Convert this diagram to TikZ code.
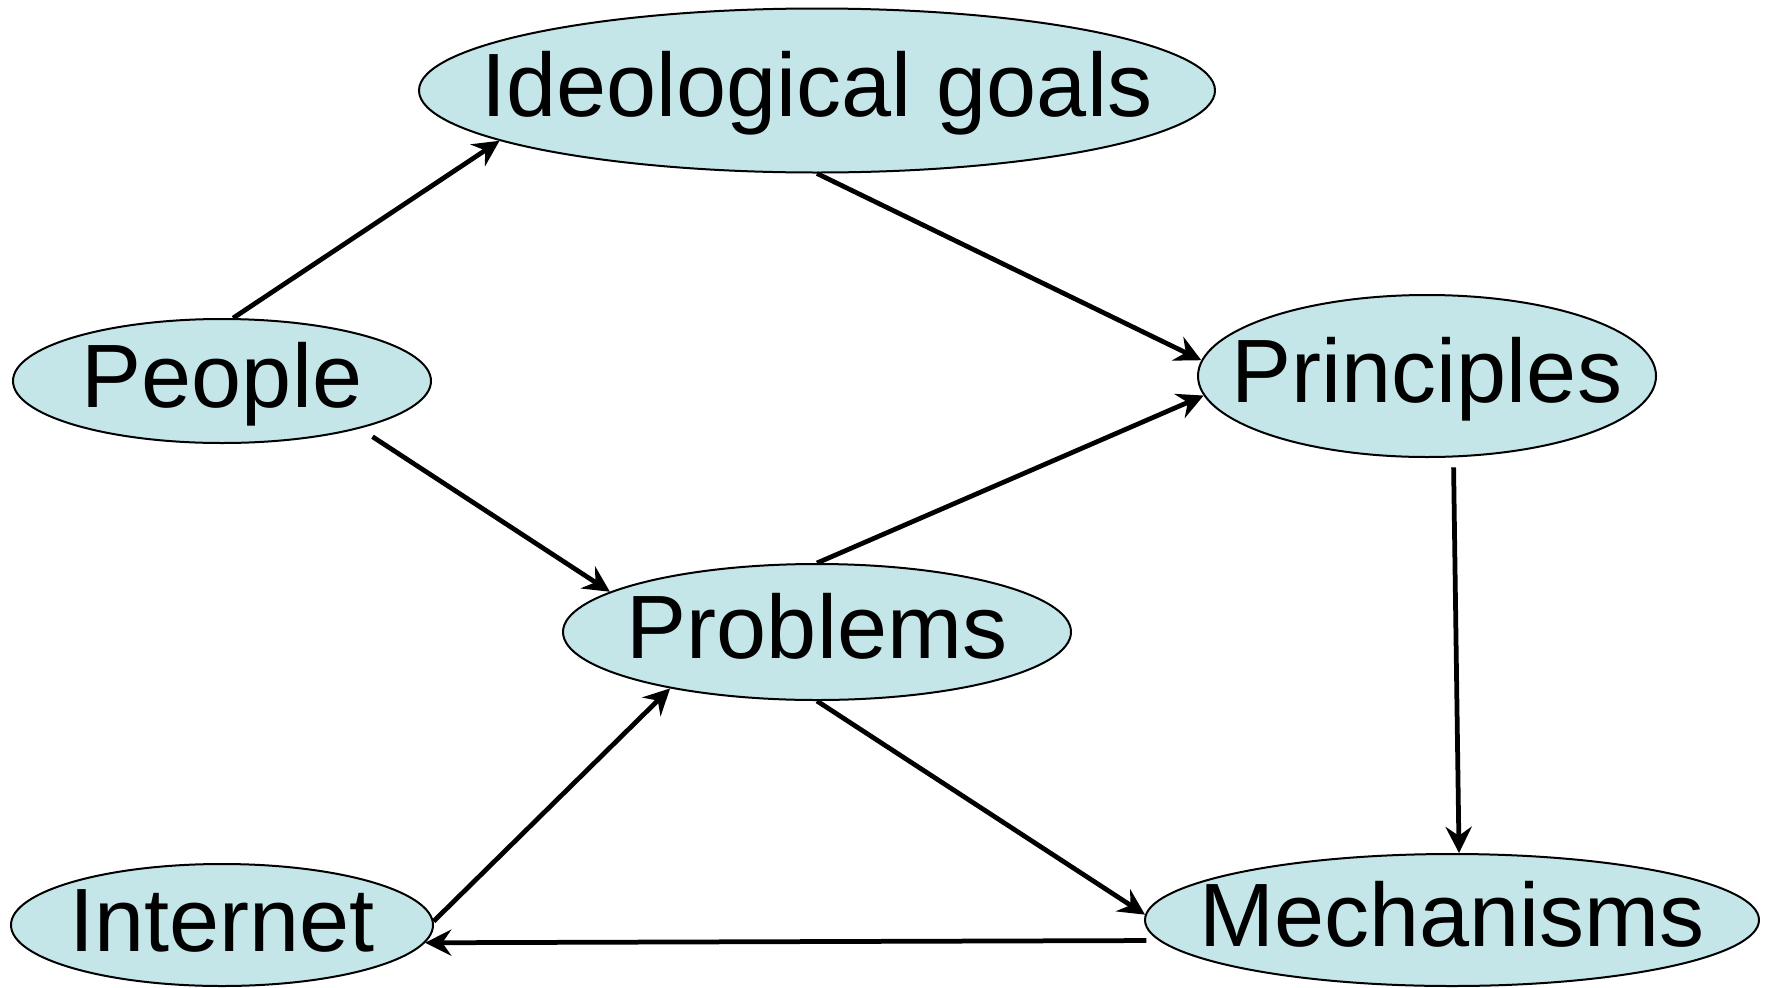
\documentclass[tikz,border=0pt]{standalone}
\usepackage{fontspec}
\setmainfont{Liberation Sans}
\usetikzlibrary{shapes.geometric,arrows.meta}

\tikzset{every picture/.style={line width=0.75pt}}
\tikzset{
  topic/.style={ellipse, draw, line width=0.8pt, fill={rgb, 255:red, 196; green, 230; blue, 232 }, inner sep=0pt,
    font=\fontsize{36}{40}\selectfont, text height=27pt, text depth=6pt},
  link/.style={line width=1.9pt, -{Stealth[length=10.5pt,width=10.5pt,inset=3.6pt]}}
}

\begin{document}
\begin{tikzpicture}[x=0.4pt,y=0.4pt,yscale=-1,xscale=1]
	\useasboundingbox (0,0) rectangle (1767,987);

	% Text Node
	\node [topic, minimum width=318.4pt, minimum height=65.6pt] (ideo) at (817,90.5) {\makebox[0pt]{Ideological goals}};
	% Text Node
	\node [topic, minimum width=167.2pt, minimum height=49.6pt] (people) at (222,381) {\makebox[0pt]{People}};
	% Text Node
	\node [topic, minimum width=183.2pt, minimum height=64.8pt] (principles) at (1427,376) {\makebox[0pt]{Principles}};
	% Text Node
	\node [topic, minimum width=203.2pt, minimum height=54.4pt] (problems) at (817,632) {\makebox[0pt]{Problems}};
	% Text Node
	\node [topic, minimum width=168.8pt, minimum height=48.8pt] (internet) at (222,925) {\makebox[0pt]{Internet}};
	% Text Node
	\node [topic, minimum width=245.6pt, minimum height=52.8pt] (mechanisms) at (1452,920) {\makebox[0pt]{Mechanisms}};

	%Straight Lines
	\draw [link] (people.80) -- (ideo.189);
	%Straight Lines
	\draw [link] (ideo.270) -- (principles.176);
	%Straight Lines
	\draw [link, shorten <=6pt] (people.341) -- (problems.169);
	%Straight Lines
	\draw [link] (problems.90) -- (principles.185);
	%Straight Lines
	\draw [link, shorten <=4pt] (principles.288) -- (mechanisms.84);
	%Straight Lines
	\draw [link] (problems.270) -- (mechanisms.179);
	%Straight Lines
	\draw [link] (internet.1) -- (problems.201);
	%Straight Lines
	\draw [link, shorten <=5pt] (mechanisms.184) -- (internet.355);

\end{tikzpicture}
\end{document}
